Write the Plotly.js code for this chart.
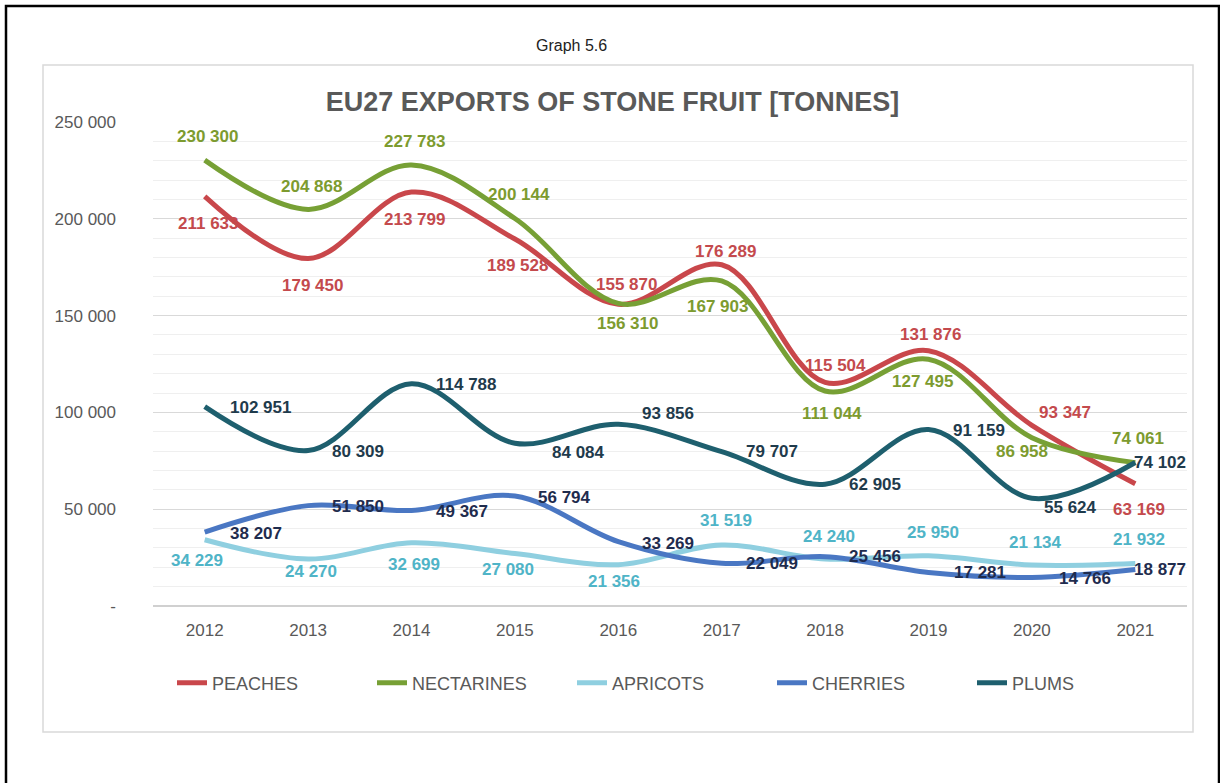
<!DOCTYPE html>
<html>
<head>
<meta charset="utf-8">
<script src="https://cdn.plot.ly/plotly-3.0.1.min.js"></script>
<style>
html,body{margin:0;padding:0;background:#fff;}
#chart{width:1220px;height:783px;}
</style>
</head>
<body>
<div id="chart"></div>
<script>
// ---- data ----
const years = ['2012','2013','2014','2015','2016','2017','2018','2019','2020','2021'];
const peaches    = [211633, 179450, 213799, 189528, 155870, 176289, 115504, 131876, 93347, 63169];
const nectarines = [230300, 204868, 227783, 200144, 156310, 167903, 111044, 127495, 86958, 74061];
const apricots   = [34229, 24270, 32699, 27080, 21356, 31519, 24240, 25950, 21134, 21932];
const cherries   = [38207, 51850, 49367, 56794, 33269, 22049, 25456, 17281, 14766, 18877];
const plums      = [102951, 80309, 114788, 84084, 93856, 79707, 62905, 91159, 55624, 74102];
const seriesNames = ['PEACHES','NECTARINES','APRICOTS','CHERRIES','PLUMS'];
const yTickVals = [0, 50000, 100000, 150000, 200000, 250000];
const yTickText = ['-', '50 000', '100 000', '150 000', '200 000', '250 000'];

// ---- styles ----
const lineColors  = ['#c9474b', '#77a035', '#8fcfe0', '#4a77c3', '#1e5f6e'];
const labelColors = ['#c44a4d', '#7d9b2f', '#4fb4c7', '#1f2c4e', '#1f3b4c'];
// label offsets in px [dx, dy(down)] from each point
const offsets = [
  [[4,27],[4,27],[3,27],[3,26],[8,-20],[4,-13],[10,-17],[2,-16],[33,-13],[4,26]],
  [[3,-24],[3,-23],[3,-24],[4,-24],[9,20],[-4,26],[7,22],[-6,22],[-10,14],[3,-24]],
  [[-8,21],[3,12],[2,22],[-7,16],[-4,17],[4,-24],[4,-23],[4,-23],[4,-23],[4,-24]],
  [[51,1],[50,1],[50,1],[50,1],[50,2],[50,0],[50,0],[51,0],[53,1],[25,0]],
  [[56,1],[50,1],[55,1],[64,9],[50,-11],[50,0],[50,0],[50,1],[39,9],[25,0]]
];

const allSeries = [peaches, nectarines, apricots, cherries, plums];
const fmt = v => String(v).replace(/\B(?=(\d{3})+(?!\d))/g, ' ');

const traces = allSeries.map((vals, i) => ({
  type: 'scatter',
  mode: 'lines',
  name: seriesNames[i],
  x: years,
  y: vals,
  line: {color: lineColors[i], width: 5, shape: 'spline', smoothing: 1},
  hoverinfo: 'x+y'
}));

const annotations = [];
allSeries.forEach((vals, i) => {
  vals.forEach((v, j) => {
    annotations.push({
      x: j, y: v, xref: 'x', yref: 'y',
      text: fmt(v), showarrow: false,
      xanchor: 'center', yanchor: 'middle',
      xshift: offsets[i][j][0], yshift: -offsets[i][j][1],
      font: {family: 'Liberation Sans, Arial, sans-serif', size: 17, color: labelColors[i], weight: 'bold'}
    });
  });
});
annotations.push({
  xref: 'paper', yref: 'paper', x: 0.4043, y: 1.159,
  text: 'Graph 5.6', showarrow: false, xanchor: 'center', yanchor: 'middle',
  font: {family: 'Liberation Sans, Arial, sans-serif', size: 16, color: '#222222'}
});

const PW = 1034, PH = 484, L = 153, T = 122;
const px = x => (x - L) / PW;
const py = y => (T + PH - y) / PH;

const shapes = [
  {type: 'rect', xref: 'paper', yref: 'paper', x0: px(43), x1: px(1193), y0: py(732), y1: py(65),
   line: {color: '#d9d9d9', width: 1.5}, layer: 'below'},
  {type: 'rect', xref: 'paper', yref: 'paper', x0: px(6), x1: px(1219), y0: py(800), y1: py(6),
   line: {color: '#000000', width: 2.5}, layer: 'below'}
];

const layout = {
  width: 1220, height: 783,
  margin: {l: L, r: 1220 - L - PW, t: T, b: 783 - T - PH, pad: 0},
  paper_bgcolor: '#ffffff', plot_bgcolor: '#ffffff',
  font: {family: 'Liberation Sans, Arial, sans-serif', color: '#595959'},
  title: {
    text: 'EU27 EXPORTS OF STONE FRUIT [TONNES]',
    xref: 'container', yref: 'container', x: 0.502, y: 1 - 101.7 / 783,
    xanchor: 'center', yanchor: 'middle',
    font: {family: 'Liberation Sans, Arial, sans-serif', size: 27, color: '#595959', weight: 'bold'}
  },
  xaxis: {
    type: 'category', range: [-0.5, 9.5],
    showgrid: false, zeroline: false, showline: false,
    ticks: '', ticklabelstandoff: 12,
    tickfont: {size: 17, color: '#595959'}
  },
  yaxis: {
    range: [0, 250000], tickvals: yTickVals, ticktext: yTickText,
    showgrid: true, gridcolor: '#d9d9d9', gridwidth: 1,
    minor: {dtick: 10000, showgrid: true, gridcolor: '#efefef', gridwidth: 1},
    zeroline: true, zerolinecolor: '#d0d0d0', zerolinewidth: 1.5,
    showline: false, ticks: '', ticklabelstandoff: 36,
    tickfont: {size: 17, color: '#595959'}
  },
  showlegend: true,
  legend: {
    orientation: 'h', x: px(172), y: py(683), xanchor: 'left', yanchor: 'middle',
    font: {size: 18, color: '#595959'}, entrywidth: 155, entrywidthmode: 'pixels',
    bgcolor: 'rgba(0,0,0,0)'
  },
  annotations: annotations,
  shapes: shapes
};

Plotly.newPlot('chart', traces, layout, {displayModeBar: false, responsive: false});
</script>
</body>
</html>
